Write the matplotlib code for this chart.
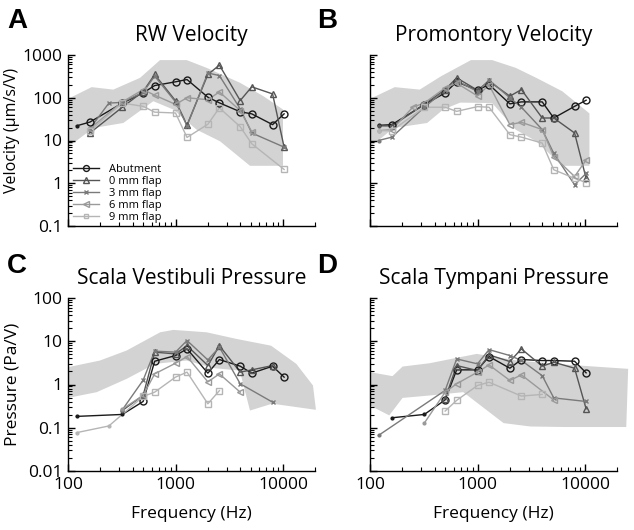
import numpy as np
import matplotlib
matplotlib.use("Agg")
import matplotlib.pyplot as plt
from matplotlib.ticker import LogLocator, NullFormatter, FixedLocator

plt.rcParams['font.family'] = ['Open Sans', 'DejaVu Sans']

# ---- data: (frequency Hz, value) per series, per panel ----
series_names = ["Abutment", "0 mm flap", "3 mm flap", "6 mm flap", "9 mm flap"]

# Panel A: RW velocity (um/s/V)
rw_f = {
    "Abutment": [120, 160, 320, 500, 640, 1000, 1280, 2000, 2560, 4000, 5120, 8000, 10240],
    "0 mm flap": [160, 320, 500, 640, 1000, 1280, 2000, 2560, 4000, 5120, 8000, 10240],
    "3 mm flap": [160, 240, 320, 500, 640, 1000, 1280, 2000, 2560, 4000, 5120, 10240],
    "6 mm flap": [160, 320, 500, 640, 1000, 1280, 2000, 2560, 4000, 5120],
    "9 mm flap": [160, 320, 500, 640, 1000, 1280, 2000, 2560, 4000, 5120, 10240],
}
rw_v = {
    "Abutment": [22, 27, 75, 130, 193, 236, 267, 103, 76, 47, 42, 23.5, 42],
    "0 mm flap": [15, 60, 140, 350, 85, 23, 350, 580, 86, 180, 123, 7],
    "3 mm flap": [19, 75, 78, 135, 320, 80, 22, 380, 330, 55, 15, 7],
    "6 mm flap": [19, 80, 155, 115, 70, 100, 90, 137, 50, 16],
    "9 mm flap": [17, 75, 63, 46, 44, 11.8, 24, 58, 21, 8.4, 2.1],
}
rw_band_f = [100, 166, 264, 468, 718, 1270, 1950, 3980, 6560, 10000]
rw_band_hi = [94, 177, 155, 292, 760, 760, 500, 224, 109, 53]
rw_band_lo_f = [100, 172, 327, 622, 955, 1573, 2594, 4930, 10000]
rw_band_lo = [7.0, 19.6, 25.7, 83, 53, 17.9, 9.6, 2.56, 2.56]

# Panel B: promontory velocity (um/s/V)
pr_f = {
    "Abutment": [120, 160, 320, 500, 640, 1000, 1280, 2000, 2560, 4000, 5120, 8000, 10240],
    "0 mm flap": [120, 160, 320, 500, 640, 1000, 1280, 2000, 2560, 4000, 5120, 8000, 10240],
    "3 mm flap": [120, 160, 320, 500, 640, 1000, 1280, 2000, 2560, 4000, 5120, 8000, 10240],
    "6 mm flap": [120, 160, 250, 320, 500, 640, 1000, 1280, 2000, 2560, 4000, 5120, 8000, 10240],
    "9 mm flap": [120, 160, 320, 500, 640, 1000, 1280, 2000, 2560, 4000, 5120, 8000, 10240],
}
pr_v = {
    "Abutment": [22.6, 23.5, 69, 130, 236, 150, 204, 72, 80, 80, 33.6, 63, 87.5],
    "0 mm flap": [22, 22, 70, 155, 292, 150, 244, 109, 155, 33.6, 33.6, 15, 1.3],
    "3 mm flap": [10, 12, 60, 150, 250, 140, 260, 100, 60, 18, 5, 0.92, 1.7],
    "6 mm flap": [17, 18, 60, 75, 170, 220, 110, 200, 23.5, 26.7, 18, 4.2, 1.44, 3.5],
    "9 mm flap": [17, 17, 60, 60, 48, 62, 60, 13.7, 12, 8.7, 2.07, 1.3, 1.04],
}
pr_band_f = [100, 170, 290, 460, 870, 1370, 2270, 3520, 6140, 11000]
pr_band_hi = [94, 177, 155, 320, 760, 760, 500, 292, 142, 43]
pr_band_lo_f = [100, 166, 340, 480, 690, 1370, 2270, 3520, 6140, 11000]
pr_band_lo = [7.0, 19.6, 25.7, 53, 77, 75, 17.9, 9.6, 2.56, 2.56]

# Panel C: scala vestibuli pressure (Pa/V)
sv_f = {
    "Abutment": [120, 320, 500, 640, 1000, 1280, 2000, 2560, 4000, 5120, 8000, 10240],
    "0 mm flap": [320, 500, 640, 1000, 1280, 2000, 2560, 4000, 5120, 8000],
    "3 mm flap": [320, 500, 640, 1000, 1280, 2000, 2560, 4000, 8000],
    "6 mm flap": [320, 500, 640, 1000, 1280, 2000, 2560, 4000],
    "9 mm flap": [120, 240, 500, 640, 1000, 1280, 2000, 2560],
}
sv_p = {
    "Abutment": [0.183, 0.203, 0.405, 3.45, 4.67, 6.65, 1.83, 3.78, 2.65, 1.83, 2.65, 1.48],
    "0 mm flap": [0.25, 0.56, 5.6, 5.1, 7.9, 2.74, 7.9, 1.93, 2.18, 2.74],
    "3 mm flap": [0.26, 1.26, 5.9, 5.6, 10.4, 3.7, 7.3, 1.04, 0.39],
    "6 mm flap": [0.27, 0.56, 1.76, 3.1, 4.43, 1.15, 1.76, 0.665],
    "9 mm flap": [0.077, 0.11, 0.53, 0.665, 1.48, 1.93, 0.358, 0.72],
}
sv_band_f = [100, 198, 351, 720, 955, 1950, 3700, 7740, 13300, 19000, 20200]
sv_band_hi = [2.51, 3.58, 6.1, 16.1, 18.3, 16.1, 11.3, 7.9, 3.0, 0.95, 0.274]
sv_band_lo_f = [100, 185, 351, 645, 1270, 2240, 3960, 4930, 7930, 20200]
sv_band_lo = [0.49, 0.665, 1.35, 3.0, 3.58, 2.4, 2.1, 0.25, 0.36, 0.26]

# Panel D: scala tympani pressure (Pa/V)
st_f = {
    "Abutment": [160, 320, 500, 640, 1000, 1280, 2000, 2560, 4000, 5120, 8000, 10240],
    "0 mm flap": [500, 640, 1000, 1280, 2000, 2560, 4000, 5120, 8000, 10240],
    "3 mm flap": [120, 500, 640, 1000, 1280, 2000, 2560, 4000, 5120, 10240],
    "6 mm flap": [320, 500, 640, 1000, 1280, 2000, 2560, 5120],
    "9 mm flap": [500, 640, 1000, 1280, 2560, 4000],
}
st_p = {
    "Abutment": [0.17, 0.203, 0.44, 2.18, 2.18, 4.43, 2.38, 3.78, 3.58, 3.58, 3.45, 1.86],
    "0 mm flap": [0.47, 2.74, 2.1, 4.84, 3.4, 6.65, 2.65, 3.27, 2.38, 0.274],
    "3 mm flap": [0.0665, 0.73, 3.9, 3.0, 6.4, 4.67, 3.6, 1.6, 0.49, 0.405],
    "6 mm flap": [0.128, 0.665, 1.04, 1.93, 2.84, 1.24, 1.67, 0.44],
    "9 mm flap": [0.243, 0.43, 0.95, 1.13, 0.54, 0.59],
}
st_band_f = [100, 162, 201, 358, 982, 2340, 6400, 25200]
st_band_hi = [1.93, 1.56, 2.6, 3.1, 5.1, 3.58, 2.9, 2.3]
st_band_lo_f = [100, 151, 201, 358, 737, 1749, 3100, 6400, 24200]
st_band_lo = [0.327, 0.193, 0.49, 0.557, 0.665, 0.128, 0.107, 0.104, 0.104]

styles = {
    "Abutment": dict(color="#1a1a1a", marker="o", ms=5),
    "0 mm flap": dict(color="#555555", marker="^", ms=5),
    "3 mm flap": dict(color="#7a7a7a", marker="x", ms=3.2),
    "6 mm flap": dict(color="#9a9a9a", marker="<", ms=4.5),
    "9 mm flap": dict(color="#b5b5b5", marker="s", ms=4),
}
band_color = "#d3d3d3"


def band(ax, fh, hi, fl, lo):
    xs = list(fh) + list(fl[::-1])
    ys = list(hi) + list(lo[::-1])
    ax.fill(xs, ys, color=band_color, lw=0, zorder=1, clip_on=False)


def draw(ax, fdict, vdict, fmin):
    # points below fmin are drawn as small dots, the rest with open markers
    for name in series_names:
        st = styles[name]
        f = np.array(fdict[name])
        v = np.array(vdict[name])
        big = f >= fmin
        ax.plot(f, v, color=st["color"], lw=1.0, zorder=3, clip_on=False)
        ax.plot(f[~big], v[~big], ls="none", marker="o", ms=2, color=st["color"],
                zorder=4, clip_on=False)
        ax.plot(f[big], v[big], ls="none", marker=st["marker"], ms=st["ms"], mfc="none",
                mec=st["color"], mew=1.0, zorder=4, clip_on=False)
        # legend proxy
        ax.plot([], [], color=st["color"], lw=1.0, marker=st["marker"], ms=st["ms"] * 0.85,
                mfc="none", mec=st["color"], mew=1.0, label=name)


def style_axes(ax, ylim, xlabels):
    ax.set_xscale("log")
    ax.set_yscale("log")
    ax.set_xlim(100, 20000)
    ax.set_ylim(*ylim)
    for s in ["top", "right"]:
        ax.spines[s].set_visible(False)
    ax.spines["left"].set_linewidth(1.0)
    ax.spines["bottom"].set_linewidth(1.0)
    ax.xaxis.set_major_locator(FixedLocator([100, 1000, 10000]))
    ax.xaxis.set_minor_locator(LogLocator(base=10, subs=np.arange(2, 10), numticks=20))
    ax.xaxis.set_minor_formatter(NullFormatter())
    ax.tick_params(which="major", direction="in", length=5, width=1, labelsize=12.5, pad=4)
    ax.tick_params(which="minor", direction="in", length=3, width=0.8)
    if xlabels:
        ax.set_xticklabels(["100", "1000", "10000"])
    else:
        ax.set_xticklabels([])


fig = plt.figure(figsize=(6.34, 5.30), dpi=100)
W, H = 634, 530
aw = 107.5 * np.log10(200)
axA = fig.add_axes([68 / W, 1 - 226 / H, aw / W, 171 / H])
axB = fig.add_axes([370 / W, 1 - 226 / H, aw / W, 171 / H])
axC = fig.add_axes([68 / W, 1 - 471 / H, aw / W, 173 / H])
axD = fig.add_axes([370 / W, 1 - 471 / H, aw / W, 173 / H])

vel_ticks = [0.1, 1, 10, 100, 1000]
vel_labels = ["0.1", "1", "10", "100", "1000"]
pres_ticks = [0.01, 0.1, 1, 10, 100]
pres_labels = ["0.01", "0.1", "1", "10", "100"]

band(axA, rw_band_f, rw_band_hi, rw_band_lo_f, rw_band_lo)
draw(axA, rw_f, rw_v, 130)
style_axes(axA, (0.1, 1000), False)
axA.set_yticks(vel_ticks)
axA.set_yticklabels(vel_labels)

band(axB, pr_band_f, pr_band_hi, pr_band_lo_f, pr_band_lo)
draw(axB, pr_f, pr_v, 130)
style_axes(axB, (0.1, 1000), False)
axB.set_yticks(vel_ticks)
axB.set_yticklabels([])

band(axC, sv_band_f, sv_band_hi, sv_band_lo_f, sv_band_lo)
draw(axC, sv_f, sv_p, 450)
style_axes(axC, (0.01, 100), True)
axC.set_yticks(pres_ticks)
axC.set_yticklabels(pres_labels)

band(axD, st_band_f, st_band_hi, st_band_lo_f, st_band_lo)
draw(axD, st_f, st_p, 450)
style_axes(axD, (0.01, 100), True)
axD.set_yticks(pres_ticks)
axD.set_yticklabels([])

for ax in [axA, axB, axC, axD]:
    ax.yaxis.set_minor_locator(LogLocator(base=10, subs=np.arange(2, 10), numticks=20))
    ax.yaxis.set_minor_formatter(NullFormatter())

for ax, t in [(axA, "RW Velocity"), (axB, "Promontory Velocity"),
              (axC, "Scala Vestibuli Pressure"), (axD, "Scala Tympani Pressure")]:
    ax.set_title(t, fontsize=15, pad=10)

axA.set_ylabel("Velocity (\u00b5m/s/V)", fontsize=11.5)
axA.yaxis.set_label_coords(-0.194, 0.56)
axC.set_ylabel("Pressure (Pa/V)", fontsize=12.5)
axC.yaxis.set_label_coords(-0.194, 0.5)
axC.set_xlabel("Frequency (Hz)", fontsize=12.5, labelpad=10)
axD.set_xlabel("Frequency (Hz)", fontsize=12.5, labelpad=10)

for lbl, x, y in [("A", 7, 28), ("B", 317, 28), ("C", 7, 273), ("D", 317, 273)]:
    fig.text(x / W, 1 - y / H, lbl, fontsize=20, fontweight="bold",
             family="Liberation Sans", va="baseline")

axA.legend(loc="upper left", bbox_to_anchor=(0.02, 0.365), frameon=False, fontsize=8,
           handlelength=2.3, handletextpad=0.9, labelspacing=0.1,
           borderpad=0, borderaxespad=0)

fig.savefig("out.png", dpi=100)
